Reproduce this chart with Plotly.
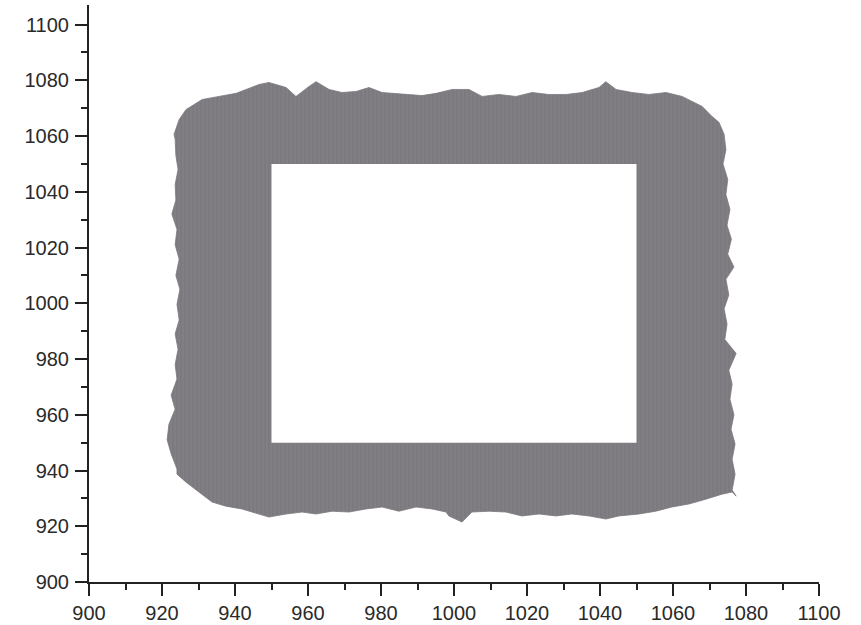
import plotly.graph_objects as go

# Outer ragged boundary of the point cloud, walked clockwise
top_x = [923.3, 924.7, 926.6, 931.0, 935.6, 940.3, 946.6, 949.3, 954.0, 956.7, 960.3, 962.2,
         965.8, 969.3, 973.2, 976.7, 980.3, 984.1, 987.7, 991.2, 995.1, 999.5, 1004.1,
         1007.7, 1012.3, 1017.0, 1021.4, 1026.0, 1030.7, 1035.1, 1039.7, 1041.6, 1044.4,
         1048.8, 1053.4, 1058.1, 1062.5, 1065.2, 1068.0, 1070.7, 1072.6]
top_y = [1060.6, 1065.9, 1069.5, 1073.1, 1074.2, 1075.3, 1078.5, 1079.2, 1077.4, 1074.2,
         1077.8, 1079.5, 1076.7, 1075.6, 1076.0, 1077.4, 1075.6, 1075.3, 1074.9, 1074.5,
         1075.3, 1076.7, 1076.7, 1074.2, 1074.9, 1074.2, 1075.6, 1074.9, 1074.9, 1075.6,
         1077.4, 1079.5, 1076.7, 1075.6, 1074.9, 1075.6, 1074.2, 1072.4, 1070.6, 1067.0, 1064.9]

right_x = [1074.0, 1074.5, 1073.7, 1075.0, 1074.5, 1075.6, 1074.8, 1076.0, 1075.0, 1076.7,
           1074.5, 1075.3, 1074.0, 1074.8, 1074.2, 1077.3, 1075.3, 1076.2, 1075.6, 1076.7,
           1075.9, 1077.0, 1076.2, 1077.0, 1076.2, 1077.3]
right_y = [1060.6, 1055.0, 1050.0, 1044.4, 1039.0, 1033.7, 1028.0, 1023.0, 1017.6, 1013.0,
           1008.6, 1003.0, 998.0, 992.5, 987.0, 982.0, 976.0, 971.0, 965.6, 960.0,
           954.8, 949.5, 944.0, 938.7, 933.0, 930.8]

bottom_x = [1076.2, 1073.4, 1069.0, 1064.4, 1059.7, 1055.3, 1050.7, 1045.2, 1041.6, 1037.0,
            1032.3, 1027.9, 1023.3, 1018.6, 1014.2, 1009.6, 1004.9, 1002.2, 998.6, 997.8,
            994.0, 989.6, 984.9, 980.3, 975.9, 971.2, 966.6, 962.2, 958.4, 954.0, 949.3,
            944.7, 941.9, 937.5, 933.7, 930.1, 926.6, 924.1]
bottom_y = [932.3, 931.5, 929.7, 928.0, 926.9, 925.4, 924.4, 923.7, 922.6, 923.7,
            924.4, 923.7, 924.4, 923.7, 925.1, 925.4, 925.1, 921.5, 923.7, 925.1,
            926.2, 926.9, 925.4, 926.9, 926.2, 925.1, 925.4, 924.4, 925.1, 924.4, 923.3,
            925.1, 926.2, 927.2, 928.7, 932.3, 935.8, 938.7]

left_x = [924.1, 922.5, 921.4, 921.9, 923.6, 922.5, 924.1, 923.6, 924.4, 923.6, 924.7,
          924.1, 924.9, 923.8, 924.7, 923.6, 924.1, 922.7, 923.8, 923.6, 924.4, 923.8,
          923.6, 923.3]
left_y = [940.5, 946.0, 951.0, 956.6, 962.0, 967.0, 972.8, 978.0, 983.5, 989.0, 994.0,
          999.6, 1005.0, 1010.0, 1015.8, 1021.0, 1026.5, 1032.0, 1037.0, 1042.6, 1048.0,
          1053.0, 1058.8, 1060.6]

# Empty inner square
hole_x = [950, 1050, 1050, 950, 950]
hole_y = [950, 950, 1050, 1050, 950]

x_ticks = list(range(900, 1101, 20))
y_ticks = list(range(900, 1101, 20))

GRAY = "#7c797f"

outer_x = top_x + right_x + bottom_x + left_x
outer_y = top_y + right_y + bottom_y + left_y

fig = go.Figure()
fig.add_trace(go.Scatter(
    x=outer_x, y=outer_y, mode="lines", fill="toself",
    fillcolor=GRAY,
    fillpattern=dict(shape="|", bgcolor=GRAY, fgcolor="#8e8b91", size=4, solidity=0.25),
    line=dict(color=GRAY, width=0.8),
    hoverinfo="skip", showlegend=False,
))
fig.add_trace(go.Scatter(
    x=hole_x, y=hole_y, mode="lines", fill="toself",
    fillcolor="white", line=dict(color="white", width=0),
    hoverinfo="skip", showlegend=False,
))

axis_common = dict(
    showgrid=False, zeroline=False, showline=True, linewidth=2, linecolor="#222",
    ticks="outside", ticklen=12, tickwidth=1.5, tickcolor="#222",
    minor=dict(dtick=10, ticks="outside", ticklen=6, tickwidth=1.5, tickcolor="#222"),
    tickfont=dict(family="Liberation Sans, Arial", size=20, color="#2a2a2a"),
    automargin=False,
)

fig.update_layout(
    width=861, height=625,
    margin=dict(l=89, r=42, t=5, b=43),
    paper_bgcolor="white", plot_bgcolor="white",
    xaxis=dict(range=[900, 1100], tickvals=x_ticks, ticktext=[str(v) for v in x_ticks],
               **axis_common),
    yaxis=dict(range=[900, 1107], tickvals=y_ticks, ticktext=[str(v) for v in y_ticks],
               ticklabelstandoff=2, **axis_common),
)

fig.write_html("out.html")
